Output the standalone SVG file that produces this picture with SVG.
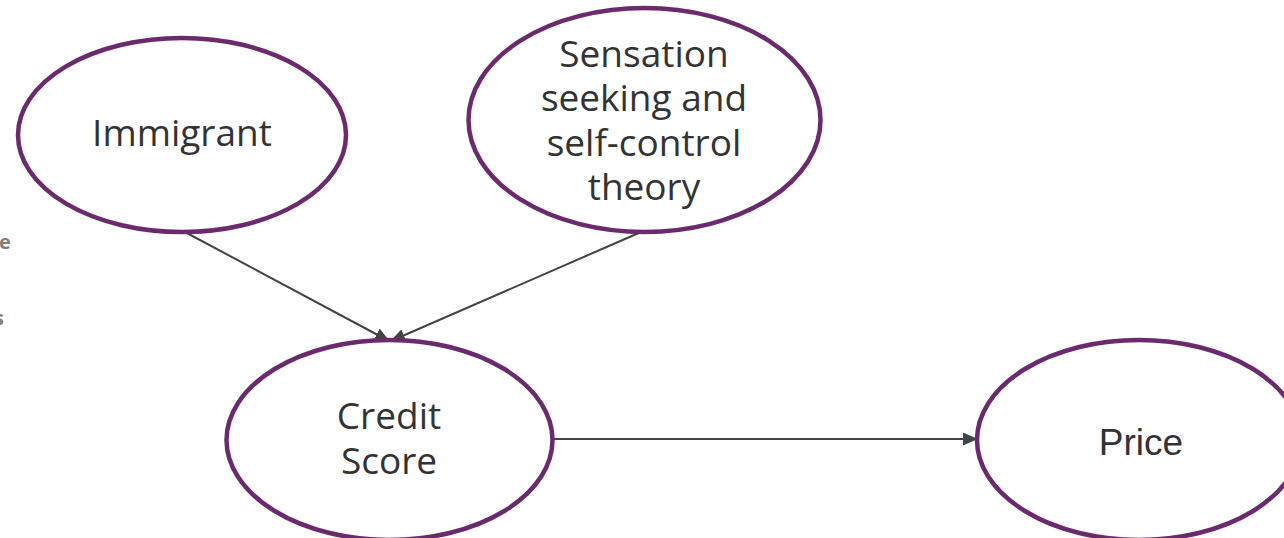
<svg xmlns="http://www.w3.org/2000/svg" width="1284" height="538" viewBox="0 0 1284 538">
<style>
.node{fill:#ffffff;stroke:#6b2a6e;stroke-width:4.5}
.lbl{font-family:"Open Sans","Noto Sans",sans-serif;font-size:37px;fill:#333333;text-anchor:middle}
.lbl2{font-family:"Liberation Sans",Arial,sans-serif;font-size:37px;fill:#333333;text-anchor:middle}
.edge{stroke:#3f4447;stroke-width:2;fill:none;marker-end:url(#ah)}
.frag{font-family:"Open Sans","Noto Sans",sans-serif;font-size:20px;font-weight:bold;fill:#808080}
</style>
<defs>
<marker id="ah" viewBox="0 0 15 13" refX="14" refY="6.5" markerWidth="15" markerHeight="13" markerUnits="userSpaceOnUse" orient="auto">
<path d="M0,0 L15,6.5 L0,13 Z" fill="#3f4447"/>
</marker>
</defs>
<rect width="1284" height="538" fill="#ffffff"/>
<text class="frag" x="-1" y="249">e</text>
<text class="frag" x="-6" y="325">s</text>
<g id="connectors">
<line class="edge" x1="185" y1="232" x2="389" y2="341"/>
<line class="edge" x1="641" y1="232" x2="391" y2="341"/>
<line class="edge" x1="553" y1="439" x2="977" y2="439"/>
</g>
<g id="immigrant">
<ellipse class="node" cx="182" cy="135" rx="164" ry="97"/>
<text class="lbl" x="182" y="146">Immigrant</text>
</g>
<g id="sensation">
<ellipse class="node" cx="644.5" cy="120" rx="176" ry="112"/>
<text class="lbl" x="644" y="67">Sensation</text>
<text class="lbl" x="644" y="111">seeking and</text>
<text class="lbl" x="644" y="156">self-control</text>
<text class="lbl" x="644" y="200">theory</text>
</g>
<g id="credit">
<ellipse class="node" cx="389.5" cy="440" rx="163" ry="100"/>
<text class="lbl" x="389" y="429">Credit</text>
<text class="lbl" x="389" y="474">Score</text>
</g>
<g id="price">
<ellipse class="node" cx="1139" cy="440" rx="162" ry="100"/>
<text class="lbl2" x="1141" y="455">Price</text>
</g>
</svg>
